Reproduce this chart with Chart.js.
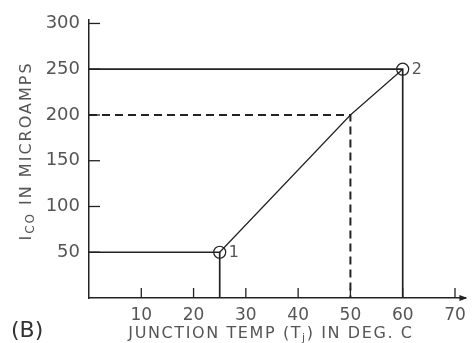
<!DOCTYPE html>
<html>
<head>
<meta charset="utf-8">
<script src="https://cdn.jsdelivr.net/npm/chart.js@4.4.0/dist/chart.umd.min.js"></script>
<style>
  html, body { margin: 0; padding: 0; background: #fff; }
  #wrap { width: 473px; height: 343px; }
</style>
</head>
<body>
<div id="wrap"><canvas id="myChart" width="473" height="343"></canvas></div>
<script>
// axis ticks
const xTicks = [10, 20, 30, 40, 50, 60, 70]
const yTicks = [50, 100, 150, 200, 250, 300]

// I_CO vs junction temp curve, point 1 -> point 2
const curveTemp = [25, 50, 60]
const curveIco = [50, 200, 250]

// solid guide lines (horizontal to y axis, vertical to x axis)
const guide1Temp = [0, 25, 25]
const guide1Ico = [50, 50, 0]
const guide2Temp = [0, 60, 60]
const guide2Ico = [250, 250, 0]

// dashed guide at 50 deg
const dashTemp = [0, 50, 50]
const dashIco = [200, 200, 0]

// marked operating points
const markTemp = [25, 60]
const markIco = [50, 250]
const markLabels = ["1", "2"]

const ink = '#222'
const textColor = '#555'

function pts(xs, ys) {
  return xs.map((x, i) => ({ x: x, y: ys[i] }))
}

function lineSet(xs, ys, width, dash) {
  return {
    data: pts(xs, ys),
    showLine: true,
    borderColor: ink,
    borderWidth: width,
    borderDash: dash || [],
    pointRadius: 0,
    pointHoverRadius: 0,
    fill: false,
    tension: 0
  }
}

// text made of normal and subscript parts, centred on cx
function subText(ctx, parts, cx, y, size, subSize, spacing) {
  ctx.letterSpacing = spacing + 'px'
  let total = 0
  parts.forEach((p) => {
    ctx.font = (p[1] ? subSize : size) + 'px "DejaVu Sans"'
    total += ctx.measureText(p[0]).width
  })
  let x = cx - total / 2
  parts.forEach((p) => {
    ctx.font = (p[1] ? subSize : size) + 'px "DejaVu Sans"'
    ctx.fillText(p[0], x, p[1] ? y + 3 : y)
    x += ctx.measureText(p[0]).width
  })
  ctx.letterSpacing = '0px'
}

// draws inside ticks, arrow, titles and point numbers
const decor = {
  id: 'decor',
  afterDatasetsDraw(chart) {
    const ctx = chart.ctx
    const xs = chart.scales.x
    const ys = chart.scales.y
    const area = chart.chartArea
    ctx.save()
    ctx.strokeStyle = ink
    ctx.lineWidth = 1.3
    // y ticks pointing right
    yTicks.forEach((v) => {
      const py = ys.getPixelForValue(v)
      ctx.beginPath()
      ctx.moveTo(area.left, py)
      ctx.lineTo(area.left + 11, py)
      ctx.stroke()
    })
    // x ticks pointing up
    xTicks.forEach((v) => {
      const px = xs.getPixelForValue(v)
      ctx.beginPath()
      ctx.moveTo(px, area.bottom)
      ctx.lineTo(px, area.bottom - 10)
      ctx.stroke()
    })
    // arrow at the end of x axis
    ctx.fillStyle = ink
    ctx.beginPath()
    ctx.moveTo(area.right + 2, area.bottom)
    ctx.lineTo(area.right - 6, area.bottom - 3)
    ctx.lineTo(area.right - 6, area.bottom + 3)
    ctx.closePath()
    ctx.fill()

    // point numbers
    ctx.fillStyle = textColor
    ctx.font = '16px "DejaVu Sans"'
    ctx.textBaseline = 'middle'
    ctx.textAlign = 'left'
    markLabels.forEach((lab, i) => {
      const px = xs.getPixelForValue(markTemp[i])
      const py = ys.getPixelForValue(markIco[i])
      ctx.fillText(lab, px + 9, py + 1)
    })

    // x title
    ctx.textBaseline = 'alphabetic'
    subText(ctx, [['JUNCTION TEMP (T', 0], ['j', 1], [') IN DEG. C', 0]], 271, 338, 16, 11, 1.6)

    // y title, rotated
    ctx.save()
    ctx.translate(31, 151)
    ctx.rotate(-Math.PI / 2)
    subText(ctx, [['I', 0], ['CO', 1], [' IN MICROAMPS', 0]], 0, 0, 16, 12, 2)
    ctx.restore()

    // panel letter
    ctx.fillStyle = '#333'
    ctx.font = '22px "DejaVu Sans"'
    ctx.fillText('(B)', 11, 337)
    ctx.restore()
  }
}

const ctx = document.getElementById('myChart').getContext('2d')
const myChart = new Chart(ctx, {
  type: 'scatter',
  data: {
    datasets: [
      lineSet(guide1Temp, guide1Ico, 1.7),
      lineSet(guide2Temp, guide2Ico, 1.7),
      lineSet(dashTemp, dashIco, 2, [8, 5]),
      lineSet(curveTemp, curveIco, 1.2),
      {
        data: pts(markTemp, markIco),
        showLine: false,
        pointStyle: 'circle',
        pointRadius: 6,
        pointHoverRadius: 6,
        pointBorderWidth: 1.2,
        pointBorderColor: ink,
        pointBackgroundColor: 'rgba(0,0,0,0)'
      }
    ]
  },
  options: {
    responsive: false,
    animation: false,
    events: [],
    layout: {
      padding: { top: 16, right: 3, left: 0, bottom: 0 }
    },
    plugins: {
      legend: { display: false },
      tooltip: { enabled: false }
    },
    scales: {
      x: {
        type: 'linear',
        min: 0,
        max: 72,
        afterBuildTicks(scale) {
          scale.ticks = xTicks.map((v) => ({ value: v }))
        },
        afterFit(scale) {
          scale.height = 45
        },
        grid: { display: false, drawTicks: false },
        border: { display: true, color: ink, width: 1.5 },
        ticks: {
          color: textColor,
          padding: 7,
          maxRotation: 0,
          font: { family: 'DejaVu Sans', size: 17 }
        }
      },
      y: {
        type: 'linear',
        min: 0,
        max: 304,
        afterBuildTicks(scale) {
          scale.ticks = yTicks.map((v) => ({ value: v }))
        },
        afterFit(scale) {
          scale.width = 89
        },
        grid: { display: false, drawTicks: false },
        border: { display: true, color: ink, width: 1.5 },
        ticks: {
          color: textColor,
          padding: 9,
          font: { family: 'DejaVu Sans', size: 18 }
        }
      }
    }
  },
  plugins: [decor]
})
</script>
</body>
</html>
